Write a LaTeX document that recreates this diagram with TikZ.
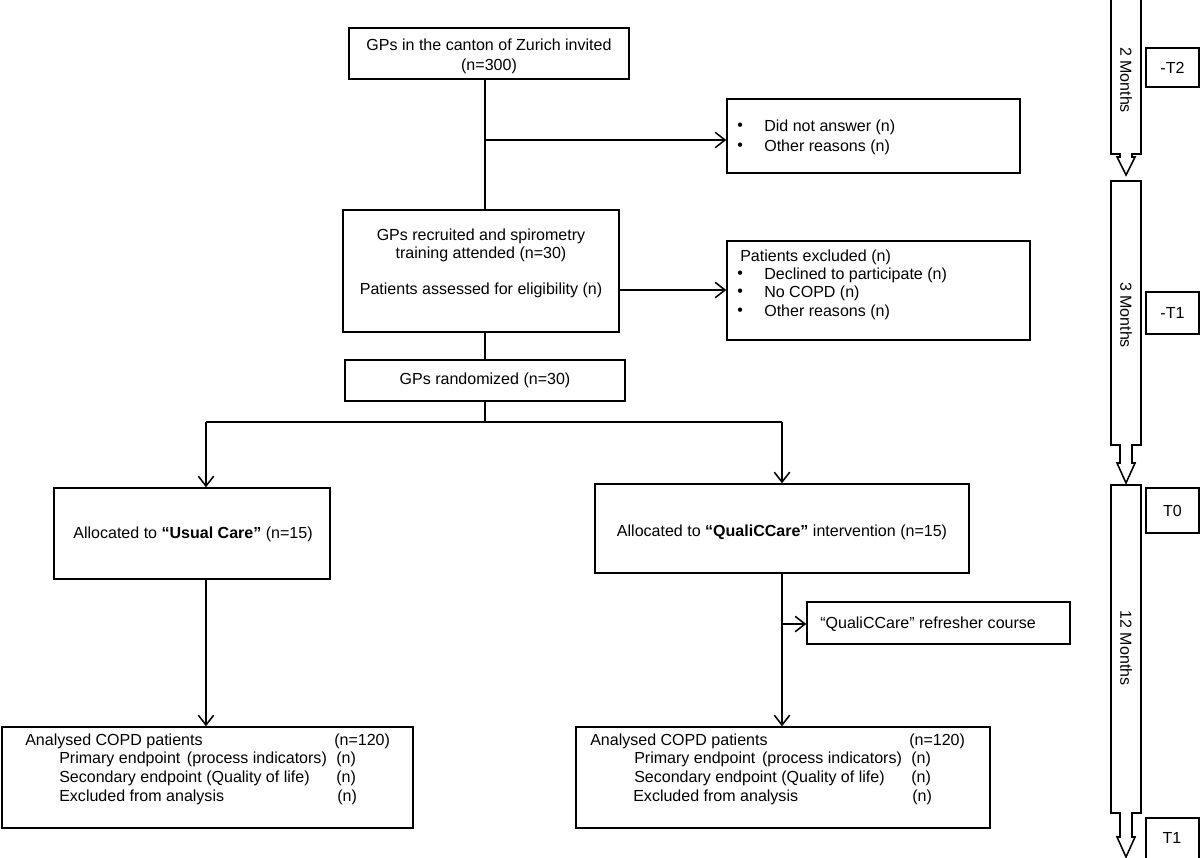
\documentclass[tikz,border=0pt]{standalone}
\usepackage{fontspec}
\setmainfont{Liberation Sans}
\usetikzlibrary{arrows.meta,fit}
\begin{document}
\begin{tikzpicture}[x=0.025cm,y=-0.025cm,
  every node/.style={font=\fontsize{11.4}{14.2}\selectfont},
  box/.style={draw,line width=1.1pt,inner sep=0pt},
  txt/.style={inner sep=0pt,align=center},
  ltxt/.style={inner sep=0pt,anchor=west},
  ln/.style={line width=1.1pt},
  arr/.style={line width=1.1pt,-{Straight Barb[length=7pt,width=11pt,line width=1.1pt]}},
  blk/.style={draw,line width=1.1pt,line join=miter}]
\useasboundingbox (0,0) rectangle (1200,857);

% ---- boxes ----
\node[box,fit={(349,28) (629,79)}] (b1) {};
\node[txt] (b1t) at (489,56) {GPs in the canton of Zurich invited\\(n=300)};

\node[box,fit={(727,99) (1020,173)}] (b3) {};
\node[ltxt] (b3a) at (737,127) {\textbullet};
\node[ltxt] (b3b) at (764,127) {Did not answer (n)};
\node[ltxt] (b3c) at (737,147) {\textbullet};
\node[ltxt] (b3d) at (764,147) {Other reasons (n)};

\node[box,fit={(343,210) (619,332)}] (b2) {};
\node[txt,font=\fontsize{11.4}{13}\selectfont] (b2t) at (481,245) {GPs recruited and spirometry\\training attended (n=30)};
\node[txt] (b2u) at (481,290) {Patients assessed for eligibility (n)};

\node[box,fit={(727,241) (1030,340)}] (b4) {};
\node[ltxt] (b4a) at (740,257) {Patients excluded (n)};
\node[ltxt] (b4b) at (737,275) {\textbullet};
\node[ltxt] (b4c) at (764,275) {Declined to participate (n)};
\node[ltxt] (b4d) at (737,293) {\textbullet};
\node[ltxt] (b4e) at (764,293) {No COPD (n)};
\node[ltxt] (b4f) at (737,312) {\textbullet};
\node[ltxt] (b4g) at (764,312) {Other reasons (n)};

\node[box,fit={(345,360) (625,401)}] (b5) {};
\node[txt] (b5t) at (485,380) {GPs randomized (n=30)};

\node[box,fit={(54,488) (330,579)}] (b6) {};
\node[txt] (b6t) at (193,534) {Allocated to \textbf{“Usual Care”} (n=15)};

\node[box,fit={(595,484) (969,573)}] (b7) {};
\node[txt] (b7t) at (782,532) {Allocated to \textbf{“QualiCCare”} intervention (n=15)};

\node[box,fit={(807,602) (1070,644)}] (b10) {};
\node[ltxt] (b10t) at (820,624) {“QualiCCare” refresher course};

\node[box,fit={(2,727) (413,828)}] (b8) {};
\node[ltxt] (b8a) at (25,741) {Analysed COPD patients};
\node[ltxt] (b8b) at (59,759) {Primary endpoint\hspace{1.5pt} (process indicators)};
\node[ltxt] (b8c) at (59,778) {Secondary endpoint (Quality of life)};
\node[ltxt] (b8d) at (59,797) {Excluded from analysis};
\node[ltxt] (b8e) at (334,741) {(n=120)};
\node[ltxt] (b8f) at (336,759) {(n)};
\node[ltxt] (b8g) at (336,778) {(n)};
\node[ltxt] (b8h) at (337,797) {(n)};

\node[box,fit={(576,727) (990,828)}] (b9) {};
\node[ltxt] (b9a) at (590,741) {Analysed COPD patients};
\node[ltxt] (b9b) at (634,759) {Primary endpoint\hspace{1.5pt} (process indicators)};
\node[ltxt] (b9c) at (634,778) {Secondary endpoint (Quality of life)};
\node[ltxt] (b9d) at (633,797) {Excluded from analysis};
\node[ltxt] (b9e) at (909,741) {(n=120)};
\node[ltxt] (b9f) at (911,759) {(n)};
\node[ltxt] (b9g) at (911,778) {(n)};
\node[ltxt] (b9h) at (912,797) {(n)};

% ---- connectors ----
\coordinate (j1) at (485,140);
\coordinate (j2) at (485,290);
\coordinate (j3) at (485,422);
\coordinate (jl) at (206,422);
\coordinate (jr) at (782,422);
\coordinate (j4) at (782,624);

\draw[ln] (b1.south -| j1) -- (b2.north -| j1);
\draw[arr] (j1) -- (b3.west |- j1);
\draw[arr] (b2.east |- j2) -- (b4.west |- j2);
\draw[ln] (b2.south -| j1) -- (b5.north -| j1);
\draw[ln] (b5.south -| j3) -- (j3);
\draw[ln] (jl) -- (jr);
\draw[arr] (jl) -- (b6.north -| jl);
\draw[arr] (jr) -- (b7.north -| jr);
\draw[arr] (b6.south -| jl) -- (b8.north -| jl);
\draw[arr] (b7.south -| jr) -- (b9.north -| jr);
\draw[arr] (j4) -- (b10.west |- j4);

% ---- timeline ----
\draw[blk] (1111,-2) -- (1141,-2) -- (1141,154) -- (1132,154) -- (1132,157) -- (1135,157)
  -- (1126,175) -- (1117,157) -- (1120,157) -- (1120,154) -- (1111,154) -- cycle;
\draw[blk] (1111,181) -- (1141,181) -- (1141,445) -- (1132,445) -- (1132,463) -- (1135,463)
  -- (1126,483) -- (1117,463) -- (1120,463) -- (1120,445) -- (1111,445) -- cycle;
\draw[blk] (1111,485) -- (1141,485) -- (1141,813) -- (1132,813) -- (1132,837) -- (1135,837)
  -- (1126,857) -- (1117,837) -- (1120,837) -- (1120,813) -- (1111,813) -- cycle;
\node[rotate=-90,inner sep=0pt] (m2) at (1126,80) {2 Months};
\node[rotate=-90,inner sep=0pt] (m3) at (1126,315) {3 Months};
\node[rotate=-90,inner sep=0pt] (m12) at (1126,648) {12 Months};

\node[box,fit={(1146,48) (1199,87)}] (t2) {};
\node[txt] (t2t) at (t2.center) {-T2};
\node[box,fit={(1146,292) (1199,334)}] (t1m) {};
\node[txt] (t1mt) at (t1m.center) {-T1};
\node[box,fit={(1146,488) (1199,533)}] (t0) {};
\node[txt] (t0t) at (t0.center) {T0};
\node[box,fit={(1146,818) (1199,862)}] (t1) {};
\node[txt] (t1t) at (1172,838) {T1};
\end{tikzpicture}
\end{document}
